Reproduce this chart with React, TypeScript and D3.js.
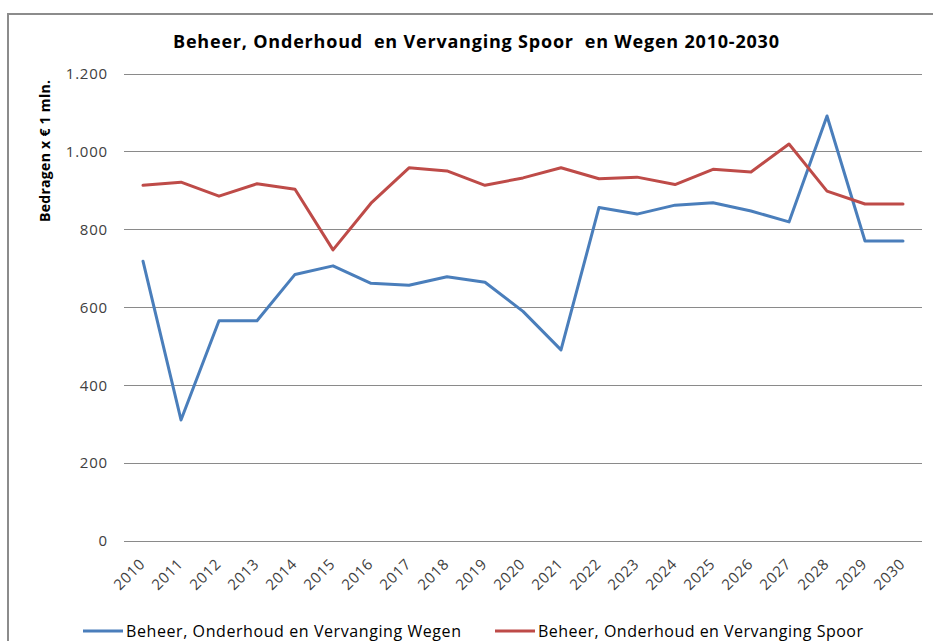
import { useRef, useEffect } from "react";
import * as d3 from "d3";

const years = [
  "2010", "2011", "2012", "2013", "2014", "2015", "2016", "2017", "2018", "2019", "2020",
  "2021", "2022", "2023", "2024", "2025", "2026", "2027", "2028", "2029", "2030",
];

const wegen = [719, 311, 566, 566, 685, 707, 662, 657, 679, 665, 590, 491, 857, 840, 863, 869, 848, 820, 1092, 771, 771];
const spoor = [914, 922, 886, 918, 904, 748, 868, 959, 951, 914, 933, 959, 931, 935, 916, 955, 948, 1020, 899, 866, 866];

const yTicks = [0, 200, 400, 600, 800, 1000, 1200];

const seriesNames = ["Beheer, Onderhoud en Vervanging Wegen", "Beheer, Onderhoud en Vervanging Spoor"];
const seriesColors = ["#4a7ebb", "#be4b48"];

const title = "Beheer, Onderhoud  en Vervanging Spoor  en Wegen 2010-2030";
const yTitle = "Bedragen x € 1 mln.";

const font = "'Open Sans', 'Noto Sans', sans-serif";

const fmt = (v: number) => d3.format(",")(v).replace(/,/g, ".");

const Chart = () => {
  const svgRef = useRef<SVGSVGElement>(null);

  useEffect(() => {
    const width = 933;
    const height = 641;
    const left = 124;
    const right = 922;
    const top = 74;
    const bottom = 541;

    const svg = d3.select(svgRef.current);
    svg.selectAll("*").remove();
    svg.attr("width", width).attr("height", height);

    svg.append("rect").attr("width", width).attr("height", height).attr("fill", "#fff");

    // chart frame (only top and left edges are visible)
    svg.append("rect")
      .attr("x", 8)
      .attr("y", 14)
      .attr("width", 960)
      .attr("height", 700)
      .attr("fill", "none")
      .attr("stroke", "#8c8c8c")
      .attr("stroke-width", 2);

    const x = d3.scalePoint<string>().domain(years).range([left, right]).padding(0.5);
    const y = d3.scaleLinear().domain([0, 1200]).range([bottom, top]);

    // gridlines
    svg.append("g")
      .selectAll("line")
      .data(yTicks)
      .join("line")
      .attr("x1", left)
      .attr("x2", right)
      .attr("y1", (d) => y(d))
      .attr("y2", (d) => y(d))
      .attr("stroke", "#8a8a8a")
      .attr("stroke-width", 1)
      .attr("shape-rendering", "crispEdges");

    // y tick labels
    svg.append("g")
      .selectAll("text")
      .data(yTicks)
      .join("text")
      .attr("x", 108)
      .attr("y", (d) => y(d))
      .attr("dy", "0.35em")
      .attr("text-anchor", "end")
      .style("font-family", font)
      .style("font-size", "15px")
      .style("letter-spacing", "0.8px")
      .style("fill", "#404040")
      .text((d) => fmt(d));

    // x tick labels, rotated
    svg.append("g")
      .selectAll("text")
      .data(years)
      .join("text")
      .attr("transform", (d) => `translate(${(x(d) ?? 0) + 3}, ${bottom + 24}) rotate(-45)`)
      .attr("text-anchor", "end")
      .style("font-family", font)
      .style("font-size", "15px")
      .style("letter-spacing", "0.6px")
      .style("fill", "#404040")
      .text((d) => d);

    // lines
    const line = d3.line<number>()
      .x((_, i) => x(years[i]) ?? 0)
      .y((d) => y(d));

    [wegen, spoor].forEach((values, i) => {
      svg.append("path")
        .datum(values)
        .attr("d", line)
        .attr("fill", "none")
        .attr("stroke", seriesColors[i])
        .attr("stroke-width", 3)
        .attr("stroke-linejoin", "round")
        .attr("stroke-linecap", "round");
    });

    // title
    svg.append("text")
      .attr("x", 476)
      .attr("y", 48)
      .attr("text-anchor", "middle")
      .attr("textLength", 606)
      .attr("lengthAdjust", "spacing")
      .style("font-family", font)
      .style("font-size", "18px")
      .style("font-weight", "bold")
      .style("fill", "#000")
      .style("white-space", "pre")
      .text(title);

    // y axis title
    svg.append("text")
      .attr("transform", `translate(50, 151) rotate(-90)`)
      .attr("text-anchor", "middle")
      .attr("textLength", 142)
      .attr("lengthAdjust", "spacing")
      .style("font-family", font)
      .style("font-size", "14px")
      .style("font-weight", "bold")
      .style("fill", "#000")
      .text(yTitle);

    // legend
    const legendX = [83, 495];
    const legendW = [335, 325];
    const legend = svg.append("g")
      .selectAll("g")
      .data(seriesNames)
      .join("g")
      .attr("transform", (_, i) => `translate(${legendX[i]}, 631)`);

    legend.append("line")
      .attr("x1", 0)
      .attr("x2", 40)
      .attr("stroke", (_, i) => seriesColors[i])
      .attr("stroke-width", 3);

    legend.append("text")
      .attr("x", 43)
      .attr("dy", "0.35em")
      .attr("textLength", (_, i) => legendW[i])
      .attr("lengthAdjust", "spacing")
      .style("font-family", font)
      .style("font-size", "16px")
      .style("fill", "#000")
      .text((d) => d);
  }, []);

  return <svg ref={svgRef} style={{ display: "block" }}></svg>;
};

export default function App() {
  useEffect(() => {
    document.body.style.margin = "0";
  }, []);
  return <Chart />;
}
